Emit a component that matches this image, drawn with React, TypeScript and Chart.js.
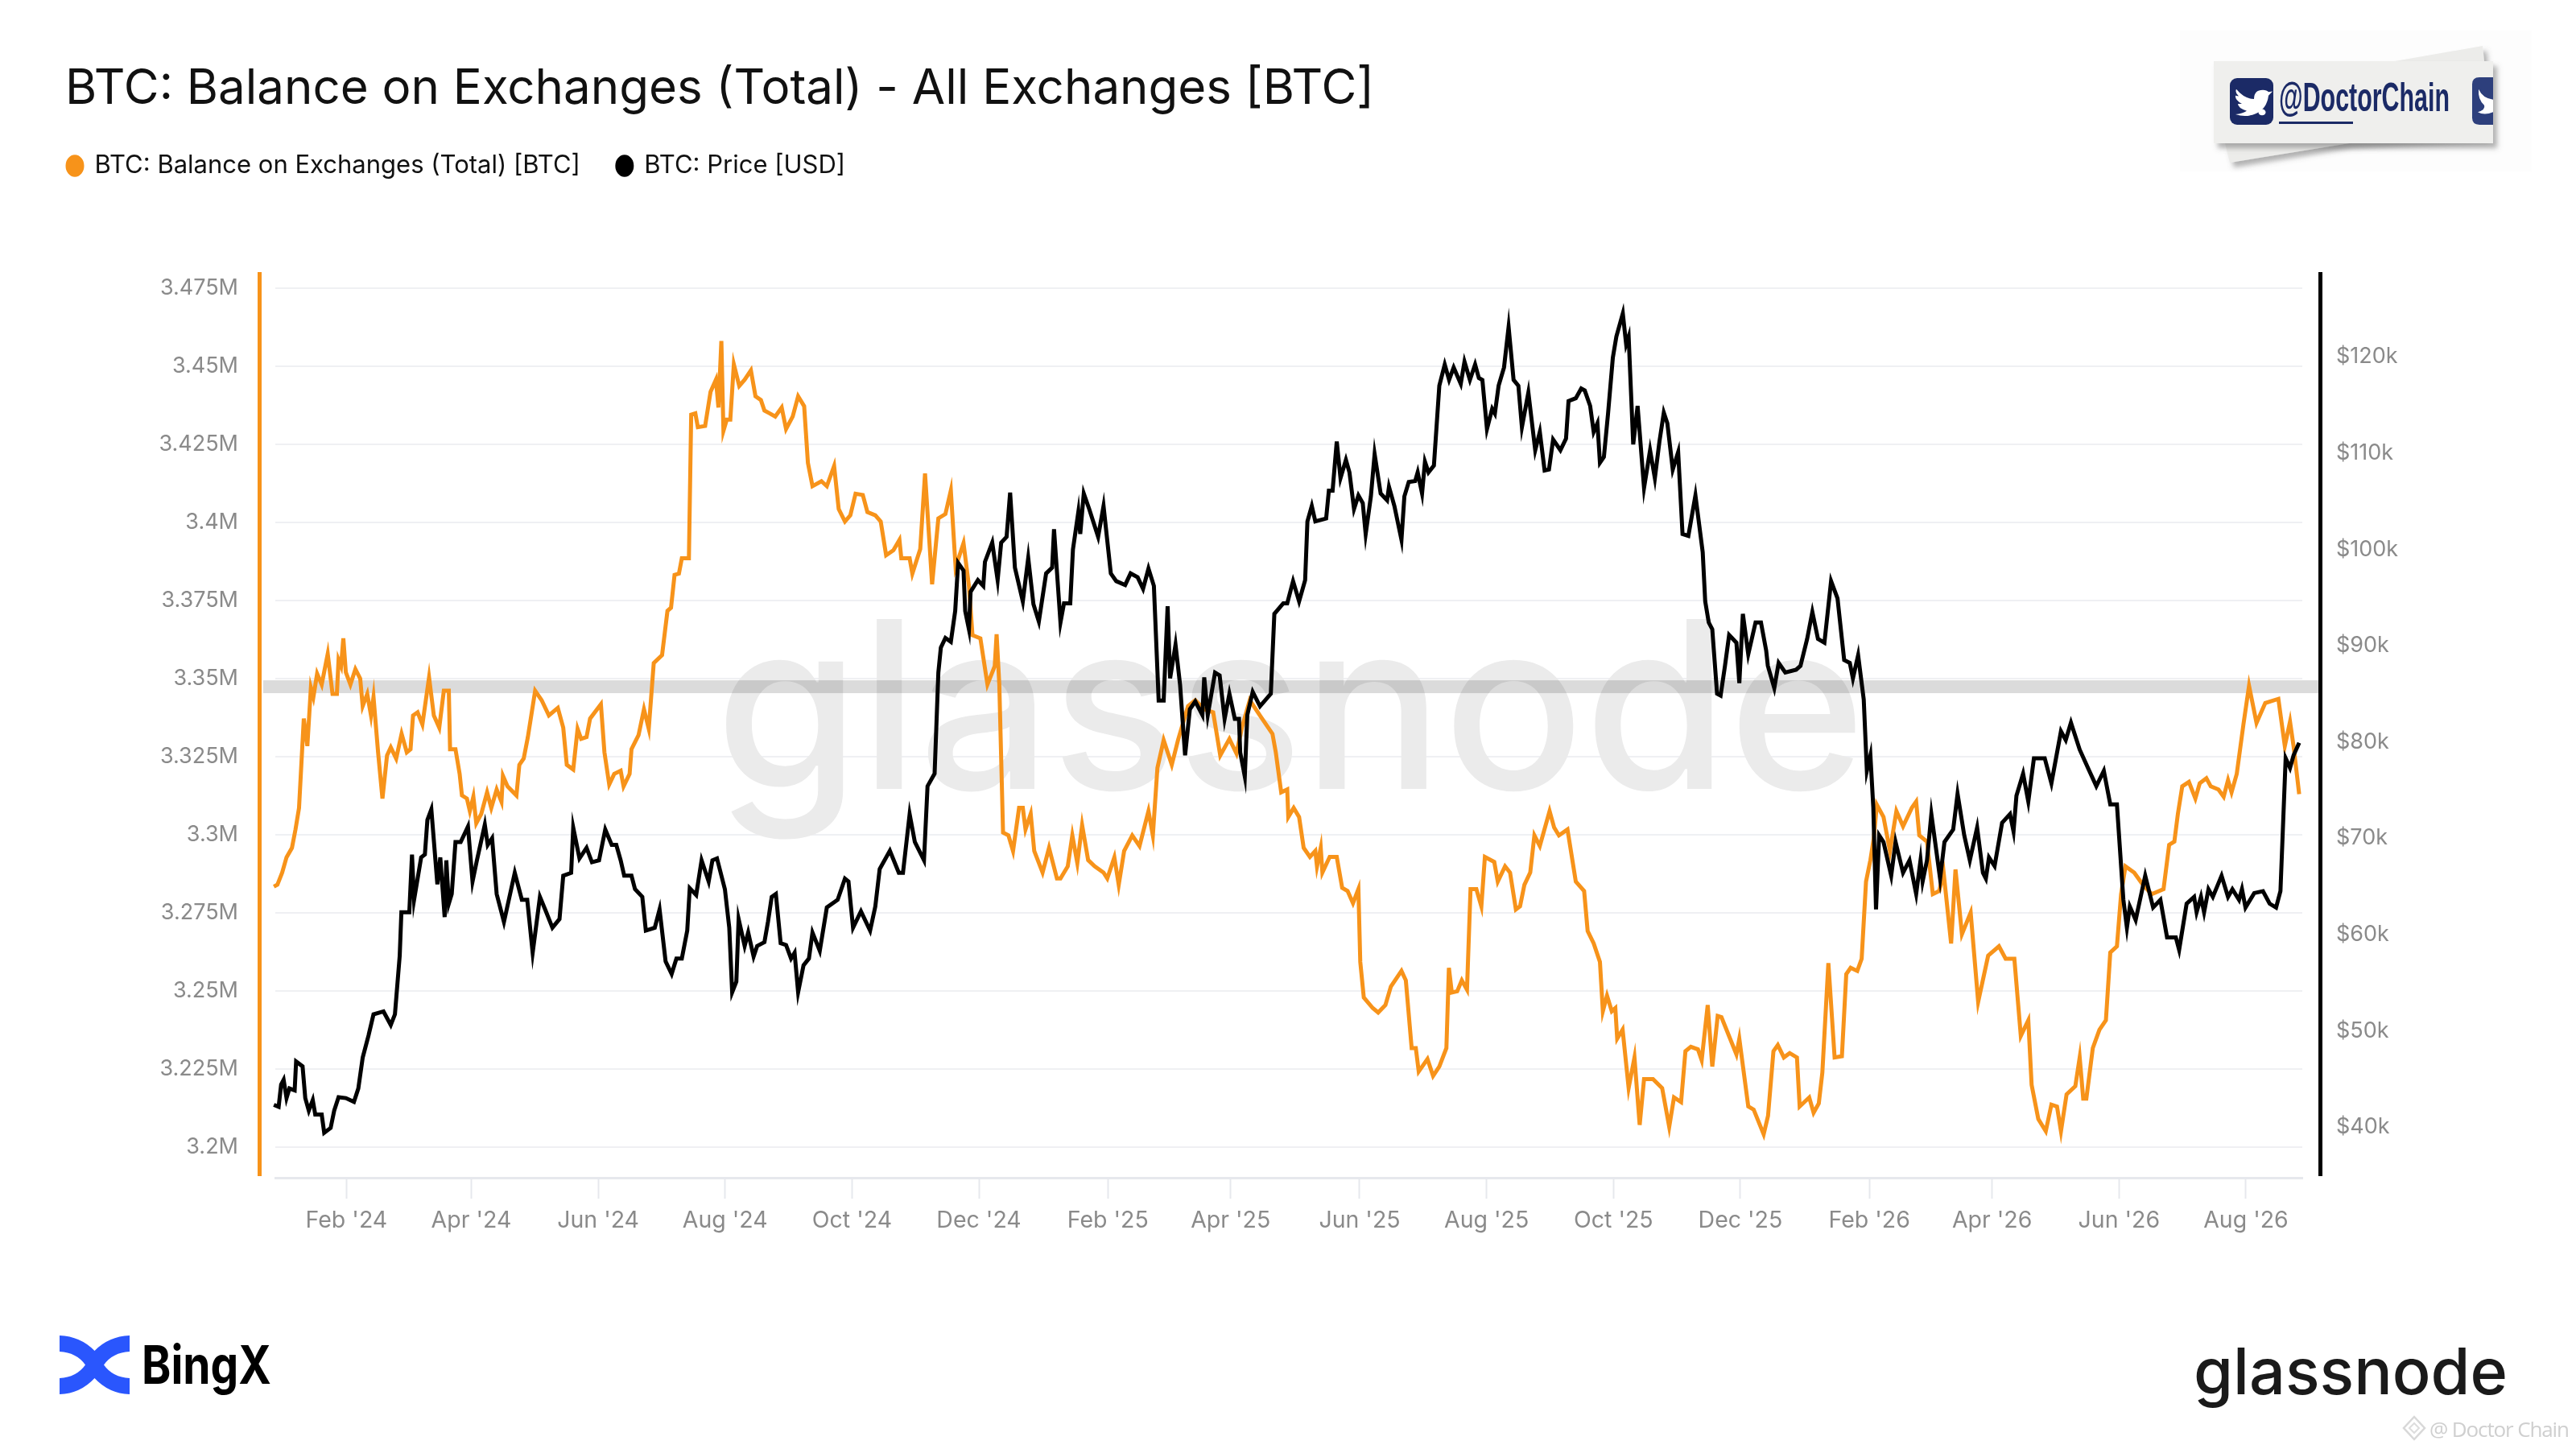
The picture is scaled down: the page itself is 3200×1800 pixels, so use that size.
import React, { useEffect, useRef } from "react";
import { Chart, registerables } from "chart.js";

Chart.register(...registerables);

const titleText = "BTC: Balance on Exchanges (Total) - All Exchanges [BTC]";
const balanceLabel = "BTC: Balance on Exchanges (Total) [BTC]";
const priceLabel = "BTC: Price [USD]";

// x values are day numbers counted from 1 Jan 2024
const xTickDays = [31, 91, 152, 213, 274, 335, 397, 456, 518, 579, 640, 701, 763, 822, 883, 944];
const xTickLabels = ["Feb '24", "Apr '24", "Jun '24", "Aug '24", "Oct '24", "Dec '24", "Feb '25", "Apr '25", "Jun '25", "Aug '25", "Oct '25", "Dec '25", "Feb '26", "Apr '26", "Jun '26", "Aug '26"];
// thousand BTC
const balanceTicks = [3200, 3225, 3250, 3275, 3300, 3325, 3350, 3375, 3400, 3425, 3450, 3475];
// thousand USD
const priceTicks = [40, 50, 60, 70, 80, 90, 100, 110, 120];
const referenceBalance = 3347.4;

const balanceDays = [
  -3.9, -2.2, 0.1, 2.2, 4.8, 6.5, 8.2, 10.5, 12.2, 13.9, 15.1, 16.9, 19.1, 22, 24.3, 26.4, 27.2, 28.4, 29.5, 30.7, 32.9, 35.3, 37.6, 38.8, 41, 42.8, 44, 46.2, 48.3, 50.5, 52.3, 54.9, 57.5, 60, 61.8, 63, 65.2, 67.5, 70.7, 73, 75.6, 77.8, 80.2, 80.8, 83.4, 85.4, 86.5, 88.9, 90.3, 92, 93.4, 95.8, 98.6, 100.6, 103.2, 105.5, 106.2, 108.4, 112.7, 114.1, 116.2, 118.2, 121.7, 124.8, 128.3, 132.6, 135.2, 136.9, 140, 142.1, 143.8, 146.4, 148.1, 153.3, 155, 157.3, 159.7, 162.8, 164.2, 167.1, 168, 171.4, 174, 176.3, 178.7, 182.7, 185.3, 187, 188.7, 190.8, 192.2, 195.6, 196.7, 198.7, 199.9, 203.4, 206, 208.6, 209.8, 211.2, 212.2, 213.8, 215.5, 217.2, 219.8, 222.4, 225.4, 227.6, 230.2, 231.9, 234.5, 237.1, 240.2, 242.3,
  245.5, 248.1, 251, 252.8, 255, 259.3, 261.9, 265.4, 267.6, 270.6, 273.2, 275.7, 279.2, 281.4, 285.2, 287.8, 290.4, 293.9, 296.8, 297.7, 301.7, 303, 306.8, 309.1, 312.5, 315.5, 318.9, 321.5, 323.8, 327.6, 330.2, 331.9, 335.7, 339.1, 342.6, 343.5, 344.8, 346.6, 349.2, 351.4, 354.3, 356.1, 357.4, 359.9, 361.6, 365.6, 368.7, 372.5, 374.2, 377.7, 379.9, 382.3, 384.6, 387.5, 390.6, 394.9, 396.7, 400.1, 402.2, 404.8, 408.7, 412.2, 416.5, 418.6, 420.8, 423.8, 427.7, 430.7, 435.5, 439, 443.3, 447.6, 451, 455.4, 458.8, 461.4, 465.2, 470.1, 476.1, 477.7,
  480.3, 483.2, 483.7, 486.3, 488.9, 491.1, 494.1, 496.7, 497.5, 499.3, 500.1, 503.6, 507, 509.6, 512.2, 514.8, 517.4, 518.3, 520, 524.3, 526.9, 530.4, 533, 538.1, 540.2, 543, 545, 546.4, 550.6, 553.3, 556.3, 559.7, 560.9, 562.3, 564.9, 567.1, 569.6, 571.3, 574.1, 576.5, 578.2, 582.7, 584.4, 587.9, 590.3, 593.1, 595.1, 597.2, 600, 602, 604.6, 609.3, 611.5, 613.8, 617.9, 621.9, 625.9, 627.6, 630.5, 633.5, 634.9, 636.9, 639.2, 640.9, 641.8, 644.4, 647.3, 650.1, 652.6, 654.7, 659, 663.4, 666.8, 669.1, 672.5, 674.6, 677.2, 680.6, 682.4, 685.3, 687.5, 690.1, 691.9, 699.1, 700.5, 704.8, 707.4, 712.2, 714.3,
  716.9, 719, 721.9, 724.7, 728.2, 729.5, 734.1, 736.2, 738.7, 740.4, 743.3, 746.3, 749.8, 751.9, 754, 757.2, 759.3, 761.4, 763.5, 765.1, 766.6, 769.8, 772.9, 776, 779.2, 783.4, 785.5, 787, 790.7, 793.5, 796.6, 798.7, 802.3, 804.4, 807.5, 811.7, 815.3, 820.1, 825.3, 828.5, 832.7, 835.8, 839.4, 841, 844.2, 847.8, 850.5, 853.2, 855.1, 857.8, 862, 864.1, 865.8, 867.3, 870.4, 873.6, 876.7, 878.8, 882, 884, 886.1, 890.3, 894.5, 898.7, 904.4, 907.1, 909.6, 911.3, 913.4, 916.6, 919.7, 921.8, 925, 927.1, 930.8, 933.3, 935.4, 937.1, 939.6, 942.8, 945.5, 949.1, 953.3, 959.6, 962.7, 965.2, 966.9, 969.6,
];
const balanceValues = [
  3283.4, 3284, 3287.9, 3292.8, 3295.8, 3301.7, 3308.6, 3337.2, 3328.4, 3347.1, 3344.1, 3351.6, 3348.1, 3357.9, 3345.1, 3345.1, 3356, 3354, 3362.9, 3352, 3348.1, 3353, 3350, 3341.2, 3345.1, 3338.2, 3344.1, 3326.4, 3311.6, 3325.4, 3328, 3324.4, 3332.3, 3326.4, 3327.4, 3338.2, 3339.2, 3335.3, 3350.4, 3338.2, 3334.3, 3346.1, 3346.1, 3327.4, 3327.4, 3319.5, 3312.6, 3311.6, 3307.6, 3312.2, 3303.7, 3306.7, 3313.6, 3308.6, 3314.5, 3310.6, 3318.9, 3315.5, 3312.6, 3322.4, 3324.4, 3331.3, 3346.1, 3343.1, 3338.2, 3340.6, 3334.3, 3322.4, 3320.9, 3333.9, 3330.7, 3331.3, 3337.2, 3341.8, 3326.4, 3316.1, 3319.5, 3320.5, 3315.5, 3319.5, 3327.4, 3331.9, 3340.2, 3333.9, 3355, 3357.5, 3371.7, 3372.7, 3383.2, 3383.6, 3388.5, 3388.5, 3434.5, 3434.9, 3430.5, 3430.9, 3441.8, 3445.7, 3436.8, 3458.1, 3429.3, 3432.9, 3432.9, 3450.6, 3443.7, 3445.7, 3448.7, 3440.4, 3439.2, 3435.8, 3434.9, 3433.9, 3436.8, 3429.9,
  3433.9, 3440.4, 3437.2, 3419.1, 3411.6, 3413.2, 3411.6, 3418.1, 3404.3, 3400.3, 3402.3, 3409.2, 3408.8, 3403.3, 3402.3, 3400.3, 3389.5, 3391.1, 3394.4, 3388.5, 3388.5, 3383.6, 3391.5, 3415.7, 3380.2, 3401.3, 3402.7, 3410.2, 3385.6, 3393.4, 3379.6, 3363.9, 3362.9, 3348.1, 3354, 3364.2, 3348.1, 3300.7, 3299.8, 3294.8, 3308.6, 3308.6, 3301.7, 3306.7, 3294.8, 3287.9, 3295.8, 3286, 3286, 3289.9, 3299.8, 3290.9, 3303.1, 3291.9, 3289.9, 3287.9, 3286, 3292.8, 3284, 3294.8, 3299.8, 3296.4, 3307.6, 3299.8, 3321.4, 3330.3, 3322.4, 3330.3, 3341.2, 3343.1, 3340.2, 3339.2, 3325.4, 3330.7, 3326, 3334.3, 3343.1, 3338.2, 3332.3, 3326.4,
  3313.6, 3314.5, 3305.7, 3308.6, 3305.7, 3295.8, 3292.9, 3294.8, 3289.9, 3295.8, 3287.9, 3292.9, 3292.9, 3283, 3282, 3278.1, 3282.6, 3259.3, 3247.9, 3244.5, 3243.1, 3245.5, 3251.4, 3256.4, 3253.4, 3231.7, 3231.7, 3224.2, 3228.2, 3222.8, 3225.8, 3231.7, 3257.4, 3249.5, 3249.9, 3253.4, 3250.4, 3282.6, 3282.6, 3277.1, 3292.9, 3291.3, 3285, 3289.9, 3287.9, 3276.1, 3277.1, 3284, 3287.9, 3299.8, 3296.4, 3307.6, 3302.3, 3299.8, 3301.7, 3285, 3282, 3269.2, 3265.2, 3259.3, 3243.5, 3248.5, 3243.5, 3244.5, 3234.7, 3237.6, 3218.9, 3228.7, 3207.1, 3221.8, 3221.8, 3218.9, 3206.5, 3215.9, 3214.4, 3230.7, 3232.1, 3231.3, 3227.8, 3245.5, 3225.8, 3242, 3241.6, 3229.7, 3234.7, 3213, 3212, 3204.1, 3210,
  3230.7, 3232.7, 3228.7, 3230.1, 3228.7, 3213, 3215.9, 3211, 3214, 3223.8, 3258.9, 3228.7, 3229.1, 3255.4, 3257.4, 3256.4, 3260.3, 3285, 3291.9, 3298.8, 3309.6, 3305.7, 3294.8, 3307.6, 3302.7, 3308.6, 3310.6, 3299.8, 3297.8, 3281, 3282, 3287.9, 3265.2, 3288.9, 3268.2, 3275.1, 3246.5, 3261.3, 3264.3, 3260.3, 3260.3, 3235.6, 3240.6, 3219.9, 3209, 3205.1, 3213.6, 3213, 3205.1, 3216.9, 3219.5, 3228.7, 3215.5, 3215.5, 3231.7, 3237.6, 3240.6, 3262.3, 3264.3, 3281, 3289.9, 3287.9, 3284, 3281, 3282.6, 3296.8, 3297.8, 3306.7, 3315.5, 3316.9, 3311.6, 3316.5, 3318.1, 3315.5, 3314.5, 3312.2, 3317.5, 3313.6, 3319.5, 3335.3, 3347.7, 3335.8, 3342.2, 3343.5, 3328.4, 3336.2, 3328.4, 3313,
];

const priceDays = [
  -3.9, -1.6, -0.4, 0.8, 2.2, 3.6, 6.1, 6.8, 9.9, 11.2, 12.9, 14.8, 16, 19.1, 20.3, 23.4, 25.1, 27.2, 30.7, 34.6, 36.7, 38.8, 41.6, 44, 48.8, 52.3, 54.3, 56.6, 57.4, 61.2, 62.5, 63.5, 66.9, 68.7, 69.9, 71.8, 74.7, 76.1, 78.2, 79, 80.2, 81.6, 83.4, 85.9, 89.4, 91.6, 93.7, 97.5, 98.9, 101, 103.2, 106.7, 111.9, 115.3, 117.9, 120.5, 124, 126.5, 130, 133.4, 135.2, 139, 140, 143, 146.4, 149, 152.4, 155.4, 158.5, 160.7, 162.8, 164.5, 168, 169.7, 173.2, 174.9, 179.2, 181.5, 184.4, 187.3, 189.6, 192.2, 194.8, 196, 199.1, 201.7, 205.1, 206.9, 209.1, 212.9, 215, 216.4, 218.4, 219.5, 222.4, 224.1, 226.7, 228.4, 231.9, 233.6, 235.4, 237.4, 239.7, 242.3,
  244.7, 246.4, 248.1, 250.7, 253.3, 255, 258.5, 261.9, 267.1, 270.6, 272.3, 274.5, 278.3, 282.7, 285.2, 287.3, 292.2, 296.5, 298.5, 301.7, 304.2, 308.6, 310.3, 313.7, 315.5, 316.7, 318.9, 321.5, 323.6, 325, 327.6, 328.4, 330.2, 331, 334.5, 337.1, 337.9, 341.4, 344, 345.7, 348.3, 350, 352.3, 356.1, 358.7, 361.2, 363.8, 367.3, 370.2, 371.1, 374.2, 375.9, 378.9, 380.2, 382.8, 383.7, 385.4, 388, 392.3, 394.9, 398.4, 401, 405.3, 407.9, 411.3, 413.9, 416.5, 419.1, 421.4, 423.8, 425.7, 426.9, 429.5, 431.7, 434.1, 436.4, 439, 442.4, 443.3, 445, 448.5, 450.7, 453.1, 455.4, 458, 460, 460.6, 462.8, 464, 466.6, 470.1, 475.3, 477, 481.3,
  483.2, 486, 488.9, 491.8, 492.9, 495, 496.7, 501.9, 503.2, 505, 507, 508.8, 511.4, 513.1, 515.3, 517.4, 519.5, 520.9, 523.4, 525.2, 528.1, 531.2, 532.1, 534.7, 538.1, 539.5, 541.6, 544.7, 545.9, 548, 549.4, 551.1, 553.7, 556.3, 558.9, 561, 563.2, 566.6, 568.4, 571, 573.5, 575.3, 577, 579.2, 581.7, 583, 584.8, 587.4, 589.6, 592, 594.3, 596, 599.1, 602.4, 604.6, 606.9, 609, 611, 614.5, 617.2, 618.4, 621.9, 624.5, 626.2, 628.8, 630.5, 632.3, 633.5, 635.4, 637.4, 639.7, 641.4, 644.5, 646.1, 647.3, 649.5, 651.6, 654.7, 657.6, 659.9, 662.1, 664.2, 665.9, 668.5, 671.1, 673.2, 676, 679.4, 682.9, 684.1, 685.8, 687.5, 689.8, 691.5, 693.6, 695.6, 699.1, 700.5, 702.2, 704.8, 708.3, 710.9, 713.4,
  714.2, 717.3, 719.4, 722.6, 727.8, 729.9, 733.1, 735.6, 738.3, 741.4, 744.6, 747.7, 750.9, 753.6, 755.1, 757.6, 760.3, 761.8, 763.5, 764.9, 766.2, 767.7, 769.8, 773.5, 775.6, 779.2, 782.3, 785.5, 787.6, 788.6, 790.7, 792.8, 797, 799.1, 803.3, 805.4, 808.6, 811.3, 814.8, 817.6, 819, 820.5, 823.2, 826.8, 830.6, 832.3, 833.7, 836.9, 839.4, 842.1, 847.3, 850.5, 855.1, 857.4, 859.9, 864.1, 868.7, 872.1, 875.7, 878.8, 882, 885.1, 886.8, 888.2, 891, 895.6, 899.4, 902.9, 906.1, 910.3, 911.9, 915.5, 919.1, 920.3, 922.4, 923.9, 926, 928.1, 932.3, 935.4, 937.5, 940.7, 942.1, 943.8, 948, 952.2, 955.4, 958.5, 960.6, 963.1, 965.2, 966.9, 969.6,
];
const priceValues = [
  42.3, 42.1, 44.4, 44.9, 43, 44, 43.8, 46.8, 46.3, 43, 41.7, 42.8, 41.3, 41.3, 39.4, 39.9, 41.7, 43.1, 43, 42.6, 44, 47.2, 49.5, 51.7, 52, 50.6, 51.7, 57.8, 62.3, 62.3, 68.3, 63.6, 68, 68.3, 71.9, 73, 65.2, 68, 61.8, 67.7, 63.2, 64.2, 69.6, 69.6, 71.2, 65.5, 67.7, 71.4, 69.3, 70, 64.2, 61.3, 66.4, 63.6, 63.6, 58.1, 63.9, 62.6, 60.7, 61.6, 66.1, 66.4, 71.1, 67.9, 69, 67.5, 67.7, 70.9, 69.3, 69.3, 67.7, 66.1, 66.1, 64.7, 63.9, 60.4, 60.7, 62.6, 57.2, 55.9, 57.5, 57.5, 60.4, 64.8, 64.1, 67.7, 65.5, 67.7, 67.9, 64.7, 60.7, 54, 55.1, 61.6, 58.8, 60.2, 57.7, 58.8, 59.2, 61.3, 63.9, 64.2, 59.1, 58.9,
  57.5, 58.1, 54, 56.8, 57.5, 60.2, 58.3, 62.8, 63.6, 65.8, 65.5, 60.7, 62.4, 60.4, 62.9, 66.8, 68.7, 66.4, 66.4, 72.5, 69.6, 67.7, 75.4, 76.7, 87.2, 89.8, 90.8, 90.4, 93.6, 98.6, 97.8, 93.6, 91.7, 95.6, 96.8, 96.2, 98.7, 100.7, 96.8, 100.7, 101.3, 105.9, 98.1, 94.6, 99.1, 94.3, 92.5, 97.5, 98.1, 102.1, 92.4, 94.4, 94.4, 100, 103.9, 101.6, 105.8, 104.2, 101.3, 104.5, 97.5, 96.7, 96.3, 97.5, 97.1, 95.9, 98, 96.2, 84.3, 84.3, 94.1, 86.6, 90.1, 85.9, 78.6, 83.4, 84.2, 82.8, 86.7, 82.8, 87.2, 86.9, 82.4, 85, 82.4, 82.4, 78.9, 76.4, 82.8, 85.2, 83.7, 85, 93.3, 94.4,
  94.4, 96.7, 94.6, 96.8, 102.9, 104.5, 102.9, 103.2, 106.1, 106.1, 111.2, 107.4, 109.3, 108, 104.2, 105.6, 104.8, 101.6, 105.5, 109.9, 105.8, 105.1, 106.5, 104.5, 101, 105.5, 107, 107.1, 108, 105.8, 109.1, 108, 108.7, 117, 119.2, 117.6, 118.9, 117.2, 119.5, 117.6, 119.2, 117.8, 117.6, 112.5, 114.6, 114.1, 117, 118.9, 123.1, 117.6, 117, 112.7, 116.3, 110.3, 112.2, 108.2, 108.3, 111.4, 110.3, 111.5, 115.4, 115.7, 116.7, 116.5, 114.9, 112.2, 113.1, 109, 109.6, 114.1, 119.9, 122.1, 124.5, 121.3, 122.1, 110.9, 114.9, 106.4, 110.3, 107.4, 111.2, 114.2, 113.1, 108.3, 110.1, 101.6, 101.4, 105.6, 99.7, 94.6, 92.4, 91.7, 85, 84.8, 87.9, 91.1, 90.3, 86.1, 93.3, 89.1, 92.4, 92.4, 89.5,
  87.9, 85.6, 88.2, 87.2, 87.5, 87.9, 90.7, 93.5, 90.7, 90.3, 96.7, 94.9, 88.5, 88.2, 86.6, 89, 84.4, 77, 78.6, 73.2, 62.6, 70.3, 69.6, 66.1, 69.6, 66.4, 67.7, 64.2, 67.7, 65.5, 67.7, 72.5, 65.8, 69.6, 70.9, 74.6, 70.3, 67.7, 71.1, 66.4, 65.8, 68, 67.1, 71.6, 72.5, 70.7, 74.4, 76.7, 73.8, 78.3, 78.3, 75.7, 81.1, 80.2, 82, 79.2, 77, 75.4, 77, 73.5, 73.5, 63.6, 60.7, 62.9, 61.5, 66.1, 62.8, 63.6, 59.7, 59.7, 58.4, 63.2, 63.9, 62.3, 63.9, 62.3, 64.7, 63.9, 66.1, 63.9, 64.7, 63.6, 64.7, 62.8, 64.3, 64.5, 63.2, 62.8, 64.5, 78.3, 77.3, 78.6, 79.9,
];

const ORANGE = "#f7931a";
const BLACK = "#000000";
const TICK_GREY = "#8a8a8a";
const FONT = "Inter";

const decor = {
  id: "decor",
  afterLayout(chart: any) {
    // the legend sits directly under the title, above the gap to the plot
    chart.legend.left = 38;
    chart.legend.top = 144.5;
  },
  beforeDatasetsDraw(chart: any) {
    const { ctx, chartArea, scales } = chart;
    ctx.save();
    ctx.fillStyle = "#ebebeb";
    ctx.font = `500 290px ${FONT}`;
    ctx.textAlign = "center";
    ctx.textBaseline = "alphabetic";
    ctx.fillText("glassnode", 1603, 980);
    const y = scales.yBalance.getPixelForValue(referenceBalance);
    ctx.fillStyle = "rgba(0,0,0,0.14)";
    ctx.fillRect(chartArea.left - 15, y - 8, chartArea.width + 37, 16);
    ctx.fillStyle = ORANGE;
    ctx.fillRect(chartArea.left - 22, chartArea.top, 5, chartArea.height - 2);
    ctx.fillStyle = BLACK;
    ctx.fillRect(chartArea.right + 20, chartArea.top, 5, chartArea.height - 2);
    ctx.restore();
  },
};

export default function App() {
  const ref = useRef<HTMLCanvasElement | null>(null);
  useEffect(() => {
    if (!ref.current) return;
    const chart = new Chart(ref.current, {
      type: "line",
      plugins: [decor],
      data: {
        datasets: [
          {
            label: balanceLabel,
            data: balanceDays.map((x, i) => ({ x, y: balanceValues[i] })),
            yAxisID: "yBalance",
            borderColor: ORANGE,
            backgroundColor: ORANGE,
            borderWidth: 5,
            pointRadius: 0,
            tension: 0,
            order: 2,
            clip: false,
          },
          {
            label: priceLabel,
            data: priceDays.map((x, i) => ({ x, y: priceValues[i] })),
            yAxisID: "yPrice",
            borderColor: BLACK,
            backgroundColor: BLACK,
            borderWidth: 5,
            pointRadius: 0,
            tension: 0,
            order: 1,
            clip: false,
          },
        ],
      },
      options: {
        animation: false,
        responsive: false,
        devicePixelRatio: 1,
        layout: { padding: { left: 81, right: 0, top: 0, bottom: 0 } },
        plugins: {
          tooltip: { enabled: false },
          title: {
            display: true,
            text: titleText,
            align: "start",
            color: "#111111",
            font: { family: FONT, size: 60, weight: "400", lineHeight: 1 },
            padding: { top: 80.5, bottom: 110.5 },
          },
          legend: {
            display: true,
            align: "start",
            labels: {
              usePointStyle: true,
              pointStyle: "circle",
              boxHeight: 16,
              boxWidth: 18,
              pointStyleWidth: 18,
              padding: 46,
              color: "#111111",
              font: { family: FONT, size: 31, lineHeight: 1.2 },
              sort: (a: any, b: any) => a.datasetIndex - b.datasetIndex,
            },
          },
        },
        scales: {
          x: {
            type: "linear",
            min: -3.2,
            max: 971.1,
            afterFit(s: any) { s.height = 337; },
            afterBuildTicks(s: any) { s.ticks = xTickDays.map((value) => ({ value })); },
            border: { display: true, color: "#e6e8ed", width: 3 },
            grid: { drawOnChartArea: false, drawTicks: true, tickLength: 26, tickColor: "#e6e8ed", tickWidth: 2 },
            ticks: {
              autoSkip: false,
              maxRotation: 0,
              padding: 10,
              color: TICK_GREY,
              font: { family: FONT, size: 28.5 },
              callback: (_v: any, i: number) => xTickLabels[i],
            },
          },
          yBalance: {
            type: "linear",
            position: "left",
            min: 3190.2,
            max: 3480.15,
            afterFit(s: any) { s.width = 261; },
            afterBuildTicks(s: any) { s.ticks = balanceTicks.map((value) => ({ value })); },
            border: { display: false },
            grid: { color: "#eff0f3", lineWidth: 2, drawTicks: false },
            ticks: {
              padding: 46,
              color: TICK_GREY,
              font: { family: FONT, size: 27 },
              callback: (v: any) => `${v / 1000}M`,
            },
          },
          yPrice: {
            type: "linear",
            position: "right",
            min: 34.73,
            max: 128.8,
            afterFit(s: any) { s.width = 340; },
            afterBuildTicks(s: any) { s.ticks = priceTicks.map((value) => ({ value })); },
            border: { display: false },
            grid: { display: false, drawTicks: false },
            ticks: {
              padding: 42,
              color: TICK_GREY,
              font: { family: FONT, size: 27 },
              callback: (v: any) => `$${v}k`,
            },
          },
        },
      },
    } as any);
    return () => chart.destroy();
  }, []);

  return (
    <div style={{ position: "fixed", left: 0, top: 0, width: 3200, height: 1800, background: "#fff", overflow: "hidden" }}>
      <canvas ref={ref} width={3200} height={1800} style={{ position: "absolute", left: 0, top: 0, width: 3200, height: 1800 }} />
      <svg width={3200} height={1800} viewBox="0 0 3200 1800" style={{ position: "absolute", left: 0, top: 0 }}>
        <defs>
          <filter id="paper" x="-10%" y="-20%" width="120%" height="150%">
            <feDropShadow dx="5" dy="6" stdDeviation="3" floodColor="#666" floodOpacity="0.5" />
          </filter>
        </defs>
        {/* stamp */}
        <rect x={2708} y={38} width={437} height={175} fill="#fdfdfd" />
        <polygon points="2764,178 2770,202 2918,178 3086,170 3086,76 3084,57 2975,76" fill="#ececea" filter="url(#paper)" />
        <rect x={2750} y={76} width={347} height={102} fill="#efefed" filter="url(#paper)" />
        <rect x={2770} y={97} width={54} height={58} rx={9} fill="#1b2a66" />
        <g transform="translate(2770,97) scale(1,0.866) translate(-2770,-111)">
          <path d="M2778 127 Q2788 141 2800 141 Q2800 128 2811 128 Q2816 128 2818 131 L2823 130 L2818 136 Q2816 155 2802 162 Q2790 168 2777 163 Q2786 162 2791 158 Q2780 154 2780 148 L2785 148 Q2776 142 2777 136 L2781 137 Q2776 132 2778 127 Z" fill="#ffffff" />
          <circle cx={2810} cy={160} r={4.5} fill="#ffffff" />
        </g>
        <text x={2831} y={138} fontFamily="Liberation Sans" fontWeight={700} fontSize={50} fill="#1b2a66" textLength={212} lengthAdjust="spacingAndGlyphs">@DoctorChain</text>
        <rect x={2831} y={151} width={92} height={3} fill="#1b2a66" />
        <g transform="translate(0,96) scale(1,0.866) translate(0,-110)">
          <path d="M3097 110 L3080 110 Q3071 110 3071 120 L3071 168 Q3071 178 3080 178 L3097 178 Z" fill="#2d3f7c" />
          <path d="M3079 127 Q3084 140 3097 142 L3097 160 Q3086 165 3078 160 Q3088 156 3086 150 Q3078 142 3079 127 Z" fill="#ffffff" />
        </g>
        {/* BingX */}
        <path d="M74 1659 Q100 1660 117.5 1678 Q135 1660 161 1659 L161 1679 Q140 1680 129 1695.5 Q140 1711 161 1712 L161 1732 Q135 1731 117.5 1712 Q100 1731 74 1732 L74 1712 Q95 1711 106 1695.5 Q95 1680 74 1679 Z" fill="#2a56fd" />
        <text x={176} y={1719} fontFamily="Inter" fontWeight={700} fontSize={66} fill="#000" textLength={161} lengthAdjust="spacingAndGlyphs">BingX</text>
        {/* glassnode */}
        <text x={2725} y={1732} fontFamily="Inter" fontWeight={500} fontSize={80} fill="#1a1a1a" textLength={390} lengthAdjust="spacingAndGlyphs">glassnode</text>
        {/* source mark */}
        <polygon points="2999,1760 3012,1774 2999,1788 2986,1774" fill="none" stroke="#d8d8d8" strokeWidth={2.5} />
        <polygon points="2999,1768 3005,1774 2999,1780 2993,1774" fill="none" stroke="#dddddd" strokeWidth={2} />
        <text x={3018} y={1785} fontFamily="Open Sans" fontSize={26} fill="#cfcfcf" textLength={174} lengthAdjust="spacing">@ Doctor Chain</text>
      </svg>
    </div>
  );
}
